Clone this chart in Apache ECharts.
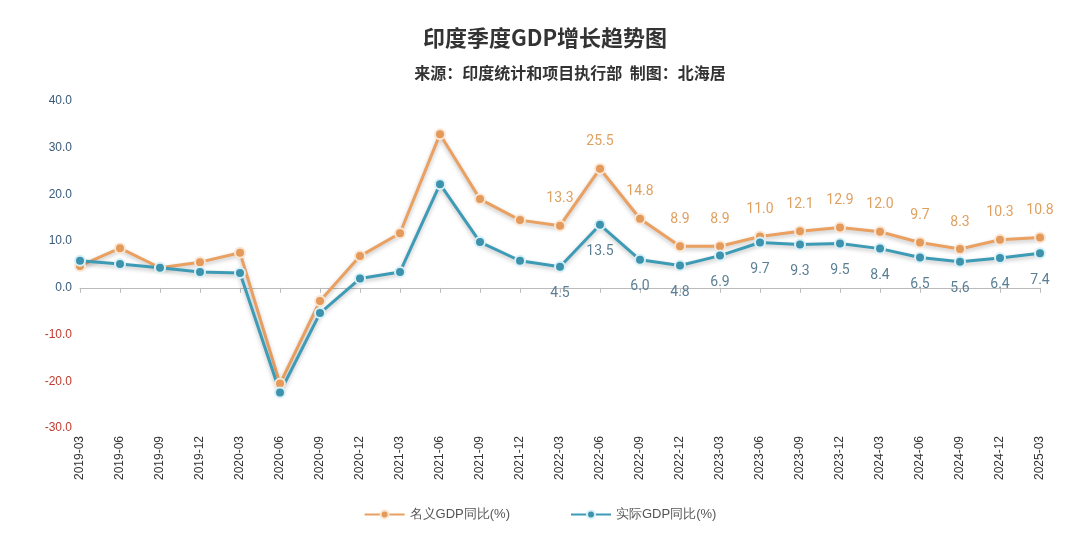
<!DOCTYPE html><html><head><meta charset="utf-8">
<script src="https://cdn.jsdelivr.net/npm/echarts@6/dist/echarts.min.js"></script>
<style>html,body{margin:0;background:#fff}#c{width:1080px;height:540px}</style></head><body><div id="c"></div>
<script>
const categories=['2019-03','2019-06','2019-09','2019-12','2020-03','2020-06','2020-09','2020-12','2021-03','2021-06','2021-09','2021-12','2022-03','2022-06','2022-09','2022-12','2023-03','2023-06','2023-09','2023-12','2024-03','2024-06','2024-09','2024-12','2025-03'];
const nominal=[4.7,8.5,4.3,5.5,7.5,-20.5,-2.8,6.8,11.7,32.9,19.0,14.5,13.3,25.5,14.8,8.9,8.9,11.0,12.1,12.9,12.0,9.7,8.3,10.3,10.8];
const real=[5.8,5.1,4.3,3.4,3.2,-22.4,-5.4,2.0,3.4,22.2,9.8,5.8,4.5,13.5,6.0,4.8,6.9,9.7,9.3,9.5,8.4,6.5,5.6,6.4,7.4];
const labelFrom=12;
const chart=echarts.init(document.getElementById('c'));
function lbl(pos,color){return {show:true,position:pos,distance:14,color:color,fontSize:14,fontFamily:'Roboto',
  formatter:p=>p.dataIndex>=labelFrom?p.value.toFixed(1):''};}
chart.setOption({
 title:[{text:'印度季度GDP增长趋势图',left:540,top:22,textAlign:'center',textStyle:{fontSize:22,fontWeight:'bold',color:'#333',fontFamily:'Noto Sans CJK SC'}},
  {text:'来源：印度统计和项目执行部  制图：北海居',left:565,top:60,textAlign:'center',textStyle:{fontSize:16,fontWeight:'bold',color:'#333',fontFamily:'Noto Sans CJK SC'}}],
 legend:{bottom:14,left:'center',itemGap:60,itemWidth:40,itemHeight:10,textStyle:{fontSize:13,color:'#555'}},
 grid:{left:80,right:40,top:101,bottom:112},
 xAxis:{type:'category',data:categories,boundaryGap:false,axisLine:{lineStyle:{color:'#bbb'}},axisTick:{show:true,alignWithLabel:true,lineStyle:{color:'#bbb'}},
  axisLabel:{rotate:90,color:'#333',fontSize:12,interval:0},
  splitLine:{show:false}},
 yAxis:{type:'value',min:-30,max:40,interval:10,axisLine:{show:false},axisTick:{show:false},splitLine:{show:false},
  axisLabel:{fontSize:12,formatter:v=>v.toFixed(1),color:v=>v<0?'#c0392b':'#3a5a7a'}},
 series:[
  {name:'名义GDP同比(%)',type:'line',data:nominal,color:'#e9a061',symbol:'circle',symbolSize:10,
   lineStyle:{width:3,color:'#e9a061',shadowColor:'rgba(0,0,0,0.25)',shadowBlur:4,shadowOffsetY:2},
   itemStyle:{color:'#e39a5a',borderColor:'#fbe6d4',borderWidth:2},label:lbl('top','#e0a060')},
  {name:'实际GDP同比(%)',type:'line',data:real,color:'#3d9bb5',symbol:'circle',symbolSize:10,
   lineStyle:{width:3,color:'#3d9bb5',shadowColor:'rgba(0,0,0,0.25)',shadowBlur:4,shadowOffsetY:2},
   itemStyle:{color:'#3d93ad',borderColor:'#d8f0f7',borderWidth:2},label:lbl('bottom','#5a7f95')}
 ]
});
</script></body></html>
